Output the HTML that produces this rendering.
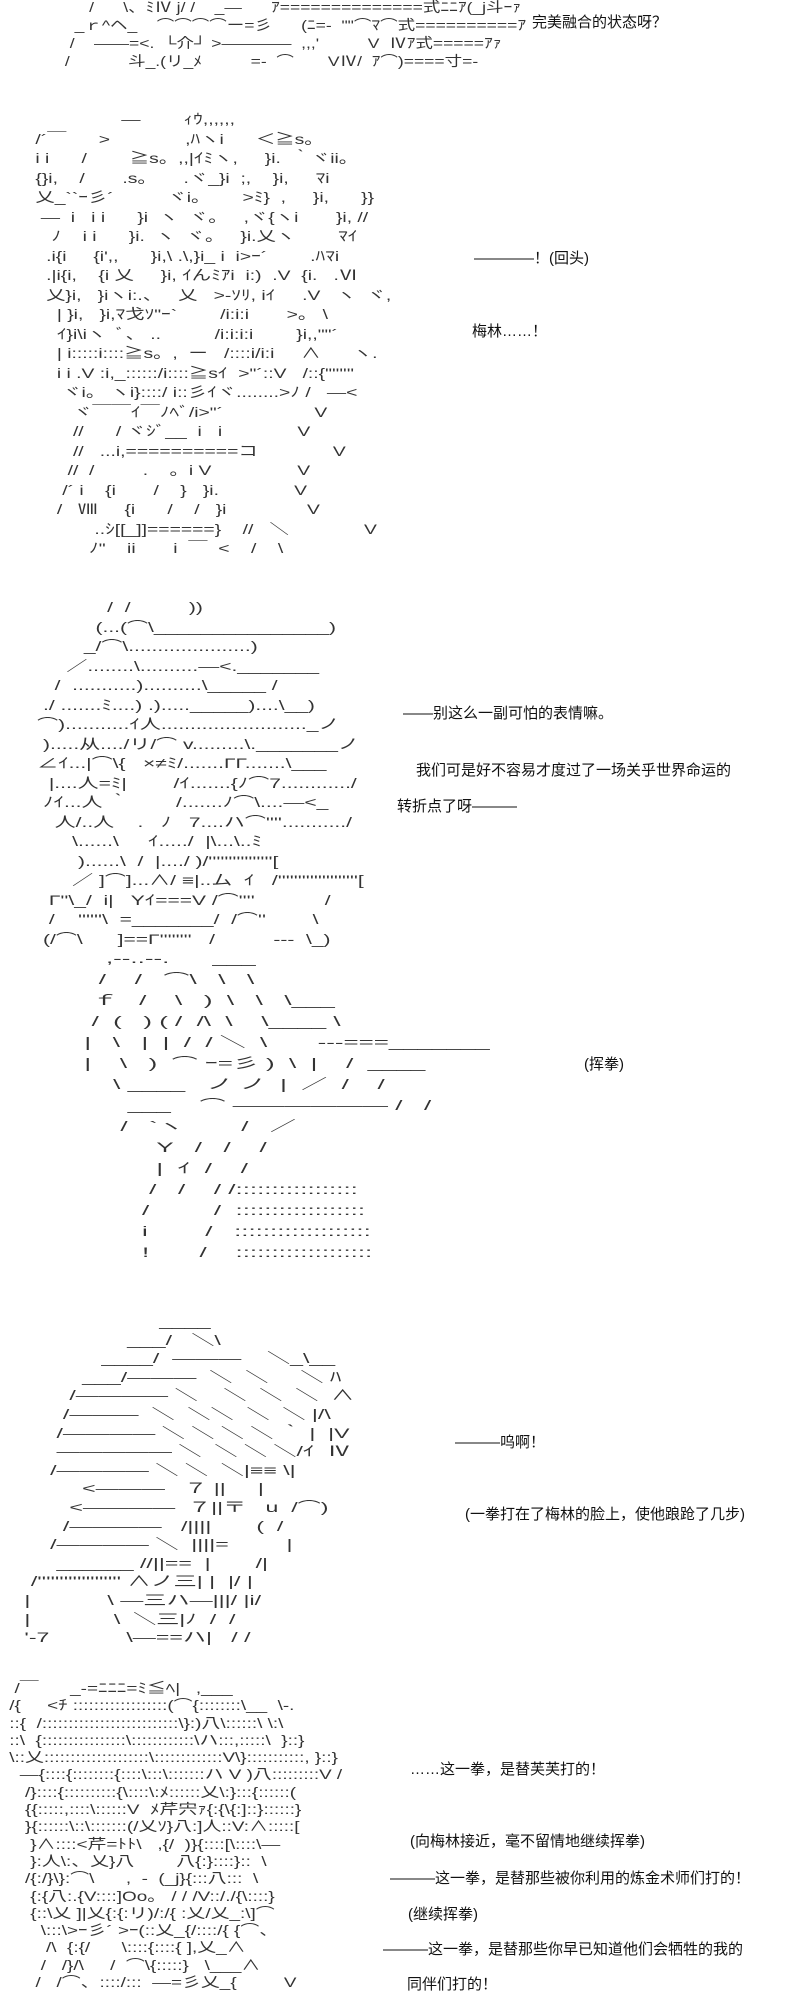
<!DOCTYPE html>
<html><head><meta charset="utf-8"><style>
html,body{margin:0;padding:0;background:#fff;}
body{width:800px;height:2000px;position:relative;overflow:hidden;}
pre{position:absolute;margin:0;font-family:"Liberation Sans","Noto Sans CJK JP",sans-serif;font-size:14px;line-height:18px;color:#333;white-space:pre;transform-origin:0 0;}
.t{position:absolute;font-family:"Liberation Sans","Noto Sans CJK SC",sans-serif;font-size:15px;color:#111;white-space:nowrap;line-height:18px;}
</style></head><body>

<pre style="left:60px;top:-2px;transform:scaleX(1.25);">      /      \、ﾐⅣ j/ /    _―      ｱ==============式ﾆﾆｱ(_j斗ｰｧ
   _ｒ^ヘ_    ⌒⌒⌒⌒ー=彡      (ﾆ=-  ""⌒ﾏ⌒式==========ｱ
  /    ――=<.  └介┘ >――――  ,,,'          V  Ⅳｱ式=====ｱｧ
 /            斗_.(リ_ﾒ          =-  ⌒       VⅣ/  ｱ⌒)====寸=-</pre>
<div class="t" style="left:532px;top:14px;">完美融合的状态呀？</div>

<pre style="left:30px;top:110px;line-height:19.5px;transform:scaleX(1.38);">                 ―        ｨｳ,,,,,,
 /´￣      >              ,ﾊヽi      ＜≧s。
 i i      /        ≧s。,,|ｲﾐヽ,     }i.  ｀ヾii。
 {}i,    /       .s。     .ヾ_}i  ;,    }i,     ﾏi
 乂_``ｰ彡´          ヾi。      >ﾐ}  ,     }i,      }}
  ―  i   i i      }i  ヽ  ヾ。   ,ヾ{ヽi       }i, //
    ﾉ    i i      }i.  ヽ  ヾ。   }i.乂ヽ        ﾏｲ
   .i{i     {i',,      }i,\ .\,}i_ i  i>ｰ´        .ﾊﾏi
   .|i{i,    {i 乂     }i, ｲんﾐｱi  i:)  .V  {i.   .Ⅵ
   乂}i,   }iヽi:.、   乂   >-ｿﾘ, iｲ     .V   ヽ  ヾ,
     | }i,   }i,ﾏ戈ｿ"ｰ`        /i:i:i       >。 \
     ｲ}i\iヽ  ﾞ、 ..          /i:i:i:i        }i,,""´
     | i:::::i::::≧s。,  ー   /::::i/i:i     ∧      ヽ.
     i i .V :i,_::::::/i::::≧sｲ  >"´::V   /::{"''''''
      ヾi。 ヽi}::::/ i::彡ｲヾ........>ﾉ /   ―<
        ヾ￣￣ｲ￣ﾉﾍﾞ/i>"´                 V
        //      / ヾｼﾞ__  i   i              V
        //   ...i,==========コ              V
       //  /         .    。i V                V
      /´ i    {i       /    }   }i.              V
     /   Ⅷ     {i      /    /   }i               V
            ..ｼ[[_]]======}    //   ＼              V
           ﾉ"    ii       i  ￣  <    /    \</pre>
<div class="t" style="left:474px;top:250px;">————！(回头)</div>
<div class="t" style="left:472px;top:323px;">梅林……！</div>

<pre style="left:8px;top:598px;line-height:19.5px;transform:scaleX(1.5);">                 /  /          ))
               (...(⌒\_______________)
             _/⌒\.....................)
          ／........\..........―<._______
        /  ...........)..........\_____ /
      ./ .......ﾐ....) .)....._____)....\__)
     ⌒)...........ｲ人........................._ノ
      ).....从..../リ/⌒ v.........\._______ノ
     ∠ｲ...|⌒\{   ×≠ﾐ/.......ΓΓ.......\___
       |....人=ﾐ|        /ｲ.......{ﾉ⌒7............/
      ﾉｲ...人 ｀        /.......ﾉ⌒\....―<_
        人/..人    .   ﾉ   7....ハ⌒''''.........../
           \......\     ｲ...../  |\...\..ﾐ
            )......\  /  |..../ )/''''''''''''''''[
           ／ ]⌒]...∧/ ≡|..ム  ｲ   /''''''''''''''''''''[
       Γ''\_/  i|   Yｲ===V /⌒''''            /
       /    ''''''\  =_______/  /⌒''        \
      (/⌒\      ]==Γ''''''''   /          ---  \_)</pre>
<div class="t" style="left:403px;top:705px;">——别这么一副可怕的表情嘛。</div>
<div class="t" style="left:416px;top:762px;">我们可是好不容易才度过了一场关乎世界命运的</div>
<div class="t" style="left:397px;top:798px;">转折点了呀———</div>

<pre style="left:70px;top:948px;line-height:21px;transform:scaleX(1.85);">     ,-‐..‐-.      ___
    /    /   ⌒\   \   \
   ｆ   /    \   )  \   \   \___
   /  (   ) ( /  /\  \    \____ \
  |   \   |  |  /  / ＼  \       ---===_______
  |    \   )  ⌒ ｰ=彡 )  \  |    /  ____
      \ ____   ノ ノ  |  ／  /    /
        ___    ⌒ ―――――― /   /
       /   `ヽ        /   ／
            Y   /   /    /
            |  ｲ  /    /
           /   /    / /:::::::::::::::::
          /         /  ::::::::::::::::::
          i        /   :::::::::::::::::::
          !       /    :::::::::::::::::::</pre>
<div class="t" style="left:584px;top:1056px;">(挥拳)</div>

<pre style="left:18px;top:1312px;line-height:18.6px;transform:scaleX(1.65);">                      ____
                 ___/   ＼\
             ____/  ―――    ＼_\__
          ___/―――  ＼  ＼     ＼ ﾊ
        /―――― ＼    ＼  ＼  ＼  ∧
       /―――  ＼  ＼＼  ＼  ＼ |/\
      /―――― ＼ ＼ ＼ ＼ ｀ |  |V
      ――――― ＼  ＼ ＼ ＼/ｲ  Ⅳ
     /―――― ＼ ＼  ＼|≡≡ \|
          <―――   ７ ||     |
        <――――  ７||〒   u  /⌒)
       /――――   /||||       (  /
     /―――― ＼  ||||=         |
      ______ //||==  |       /|
  /''''''''''''''''''' ∧ノ三| |  |/ |
 |            \ ―三ハ―|||/ |i/
 |             \  ＼三|ﾉ  /  /
 '‐7            \―==ハ|   / /</pre>
<div class="t" style="left:455px;top:1434px;">———呜啊！</div>
<div class="t" style="left:465px;top:1506px;">(一拳打在了梅林的脸上，使他踉跄了几步)</div>

<pre style="left:4px;top:1680px;line-height:17.3px;transform:scaleX(1.35);">  /￣      _-=ﾆﾆﾆ=ﾐ≦ﾍ|   ,___
 /{     <ﾁ ::::::::::::::::::(⌒{::::::::\__  \-.
 ::{  /::::::::::::::::::::::::::\}:)八\::::::\ \:\
 ::\  {::::::::::::::::\::::::::::::\ハ:::,:::::\  }::}
 \::乂::::::::::::::::::::\:::::::::::::V\}:::::::::::, }::}
   ―{::::{::::::::{::::\:::\:::::::ハ V )八:::::::::V /
    /}::::{::::::::::{\::::\:ﾒ::::::乂\:}:::{::::::(
    {{:::::,::::\::::::V  ﾒ芹宍ｧ{:{\{:]::}::::::}
    }{::::::\::\:::::::(/乂ｿ}八:]人::V:∧:::::[
     }∧::::<芹=ﾄﾄ\   ,{/  )}{::::[\::::\―
     }:人\:、乂}八        八{:}::::}::  \
    /{:/}\}:⌒\      ,  -  (_j}{:::八:::  \
     {:{八:.{V::::]Oo。 / / /V::/./{\::::}
     {::\乂 ]|乂{:{:リ)/:/{ :乂/乂_:\]⌒
       \:::\>ｰ彡´ >ｰ(::乂_{/::::/{ {⌒、
        /\  {:{/      \::::{::::{ ],乂_∧
       /   /}/\     /  ⌒\{:::::}   \___∧
      /   /⌒、::::/:::  ―=彡乂_{         V</pre>
<div class="t" style="left:410px;top:1761px;">……这一拳，是替芙芙打的！</div>
<div class="t" style="left:410px;top:1833px;">(向梅林接近，毫不留情地继续挥拳)</div>
<div class="t" style="left:390px;top:1870px;">———这一拳，是替那些被你利用的炼金术师们打的！</div>
<div class="t" style="left:408px;top:1906px;">(继续挥拳)</div>
<div class="t" style="left:383px;top:1941px;">———这一拳，是替那些你早已知道他们会牺牲的我的</div>
<div class="t" style="left:407px;top:1976px;">同伴们打的！</div>

</body></html>
